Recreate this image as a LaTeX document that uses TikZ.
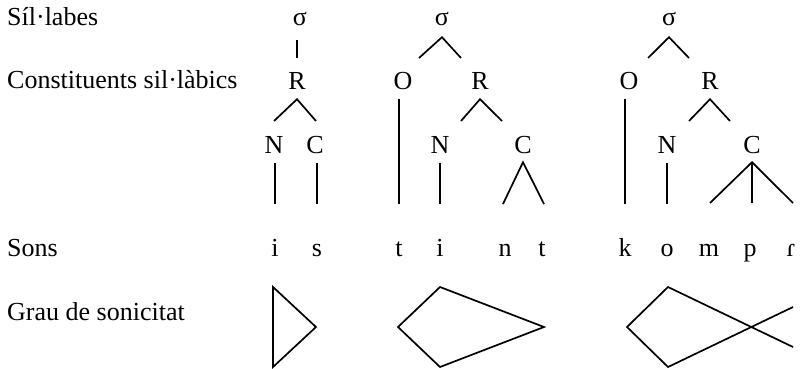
\documentclass[tikz,border=0pt]{standalone}
\usepackage{fontspec}
\setmainfont{Liberation Serif}
\usetikzlibrary{positioning}

\begin{document}
\begin{tikzpicture}[
  x=1pt, y=-1pt,
  font=\fontsize{26pt}{30pt}\selectfont,
  lbl/.style  = {anchor=base west, inner sep=0pt},
  sym/.style  = {anchor=base, inner sep=0pt, text height=17pt, text depth=0pt},
  ln/.style   = {line width=1.7pt},
  stem/.style = {ln, shorten <=10pt, shorten >=35pt},
]
\useasboundingbox (0,0) rectangle (803,368);

%% Row labels
\node[lbl] (sil)   at (7,25)  {Síl·labes};
\node[lbl] (const) at (7,88)  {Constituents sil·làbics};
\node[lbl] (sons)  at (7,256) {Sons};
\node[lbl] (grau)  at (7,320) {Grau de sonicitat};

%% Syllable 1: "is"
\node[sym] (s1) at (300,25)  {σ};
\node[sym] (r1) at (297,89)  {R};
\node[sym] (n1) at (274,153) {N};
\node[sym] (c1) at (315,153) {C};
\node[sym] (so1a) at (275,256) {i};
\node[sym] (so1b) at (317,256) {s};

\draw[ln, shorten <=15pt, shorten >=14pt] (r1.north |- s1.south) -- (r1.north);
\coordinate (r1l) at (274,121);
\coordinate (r1r) at (316,121);
\draw[ln] (r1l) -- ([yshift=-10pt]r1.south) -- (r1r);
\draw[stem] (so1a.north |- n1.south) -- (so1a.north);
\draw[stem] (so1b.north |- c1.south) -- (so1b.north);

%% Syllable 2: "tint"
\node[sym] (s2) at (442,25)  {σ};
\node[sym] (o2) at (403,89)  {O};
\node[sym] (r2) at (480,89)  {R};
\node[sym] (n2) at (440,153) {N};
\node[sym] (c2) at (523,153) {C};
\node[sym] (so2a) at (399,256) {t};
\node[sym] (so2b) at (440,256) {i};
\node[sym] (so2c) at (505,256) {n};
\node[sym] (so2d) at (542,256) {t};

\coordinate (s2l) at (419,58);
\coordinate (s2r) at (461,58);
\draw[ln] (s2l) -- ([yshift=-12pt]s2.south) -- (s2r);
\coordinate (r2l) at (461,121);
\coordinate (r2r) at (502,121);
\draw[ln] (r2l) -- ([yshift=-10pt]r2.south) -- (r2r);
\coordinate (c2l) at (503,204);
\coordinate (c2r) at (544,204);
\draw[ln] (c2l) -- ([yshift=-9pt]c2.south) -- (c2r);
\draw[stem] (so2a.north |- o2.south) -- (so2a.north);
\draw[stem] (so2b.north |- n2.south) -- (so2b.north);

%% Syllable 3: "kompr"
\node[sym] (s3) at (669,25)  {σ};
\node[sym] (o3) at (629,89)  {O};
\node[sym] (r3) at (710,89)  {R};
\node[sym] (n3) at (667,153) {N};
\node[sym] (c3) at (752,153) {C};
\node[sym] (so3a) at (625,256) {k};
\node[sym] (so3b) at (667,256) {o};
\node[sym] (so3c) at (709,256) {m};
\node[sym] (so3d) at (750,256) {p};
\node[sym] (so3e) at (791,256) {ɾ};

\coordinate (s3l) at (648,58);
\coordinate (s3r) at (689,58);
\draw[ln] (s3l) -- ([yshift=-12pt]s3.south) -- (s3r);
\coordinate (r3l) at (689,121);
\coordinate (r3r) at (730,121);
\draw[ln] (r3l) -- ([yshift=-10pt]r3.south) -- (r3r);
\coordinate (c3l) at (710,203);
\coordinate (c3m) at (752,203);
\coordinate (c3r) at (793,203);
\draw[ln] (c3l) -- ([yshift=-9pt]c3.south) -- (c3r);
\draw[ln] ([yshift=-9pt]c3.south) -- (c3m);
\draw[stem] (so3a.north |- o3.south) -- (so3a.north);
\draw[stem] (so3b.north |- n3.south) -- (so3b.north);

%% Sonority curves
\draw[ln] (273,287) -- (316,327) -- (273,367) -- cycle;
\draw[ln] (440,287) -- (544,327) -- (440,367) -- (398,327) -- cycle;
\draw[ln] (793,347) -- (668,287) -- (627,327) -- (668,367) -- (793,307);

\end{tikzpicture}
\end{document}
